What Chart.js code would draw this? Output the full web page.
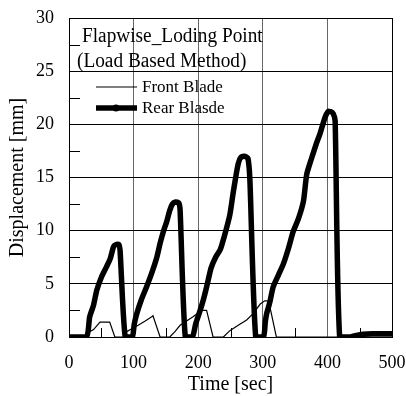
<!DOCTYPE html>
<html>
<head>
<meta charset="utf-8">
<script src="https://cdn.jsdelivr.net/npm/chart.js@4"></script>
<style>
  html, body { margin: 0; padding: 0; background: #fff; }
  #wrap { width: 406px; height: 396px; }
</style>
</head>
<body>
<div id="wrap"><canvas id="dispChart" width="406" height="396"></canvas></div>
<script>
// data
const frontTime = [0, 27, 32, 38, 48, 55, 63, 71, 87, 89, 98, 107, 118, 128, 130, 141, 156, 164, 172, 182, 192, 205, 213, 223, 239, 249, 262, 275, 285, 296, 303, 309, 321, 500];
const frontDisp = [0, 0, 0.5, 0.7, 1.4, 1.4, 1.4, 0, 0, 0.5, 0.8, 1.1, 1.5, 1.9, 2.0, 0, 0, 0.5, 1.1, 1.5, 1.9, 2.5, 2.5, 0, 0, 0.6, 1.1, 1.6, 2.2, 3.1, 3.4, 3.4, 0, 0];

const rearTime = [0, 27, 32, 38, 43, 50, 58, 64, 69, 73, 77, 79, 87, 98, 101, 105, 112, 120, 128, 136, 141, 146, 151, 156, 160, 165, 170, 172, 180, 191, 196, 203, 208, 213, 220, 227, 234, 241, 249, 254, 258, 262, 266, 272, 277, 280, 289, 301, 304, 306, 311, 316, 324, 332, 340, 347, 355, 363, 368, 376, 383, 389, 396, 401, 405, 409, 412, 419, 435, 445, 455, 470, 500];
const rearDisp = [0, 0, 1.9, 3.0, 4.4, 5.6, 6.6, 7.4, 8.5, 8.7, 8.7, 8.2, 0, 0, 1.2, 2.2, 3.5, 4.7, 6.0, 7.5, 8.8, 9.9, 10.8, 11.9, 12.5, 12.7, 12.6, 11.9, 0, 0, 1.2, 2.5, 3.5, 4.7, 6.5, 7.5, 8.2, 9.6, 11.5, 13.5, 15.0, 16.3, 16.9, 17.0, 16.8, 14.8, 0, 0, 1.5, 2.2, 3.3, 4.7, 5.8, 6.9, 8.4, 9.9, 11.1, 12.8, 15.3, 16.9, 18.2, 19.2, 20.6, 21.2, 21.2, 21.0, 20.3, 0, 0, 0.15, 0.25, 0.3, 0.3];

const yTicks = [0, 5, 10, 15, 20, 25, 30];
const xTicks = [0, 100, 200, 300, 400, 500];

const titleLines = ['Flapwise_Loding Point', '(Load Based Method)'];

const serif = '"Liberation Serif", "Times New Roman", serif';

function toPoints(xs, ys) {
    return xs.map((x, i) => ({ x: x, y: ys[i] }));
}

// inward minor ticks, frame, title and legend inside the plot
const extras = {
    id: 'extras',
    afterDraw(chart) {
        const ctx = chart.ctx;
        const area = chart.chartArea;
        const xs = chart.scales.x;
        const ys = chart.scales.y;
        ctx.save();
        ctx.strokeStyle = '#000';
        ctx.lineWidth = 1;
        // minor ticks
        for (let v = 50; v < 500; v += 100) {
            const px = Math.round(xs.getPixelForValue(v)) + 0.5;
            ctx.beginPath();
            ctx.moveTo(px, area.bottom);
            ctx.lineTo(px, area.bottom - 9);
            ctx.stroke();
        }
        for (let v = 2.5; v < 30; v += 5) {
            const py = Math.round(ys.getPixelForValue(v)) + 0.5;
            ctx.beginPath();
            ctx.moveTo(area.left, py);
            ctx.lineTo(area.left + 11, py);
            ctx.stroke();
        }
        // frame
        ctx.strokeRect(Math.round(area.left) + 0.5, Math.round(area.top) + 0.5,
            Math.round(area.right - area.left), Math.round(area.bottom - area.top));

        // title text, slightly condensed like the original
        ctx.fillStyle = '#000';
        ctx.textBaseline = 'middle';
        ctx.textAlign = 'left';
        ctx.font = '20px ' + serif;
        ctx.save();
        ctx.translate(area.left, 0);
        ctx.scale(0.965, 1);
        ctx.fillText(titleLines[0], 13 / 0.965, area.top + 19);
        ctx.fillText(titleLines[1], 8 / 0.965, area.top + 44);
        ctx.restore();

        // legend
        const sets = chart.data.datasets;
        ctx.font = '17px ' + serif;
        const rows = [area.top + 69, area.top + 90];
        sets.forEach((ds, i) => {
            const y = rows[i];
            ctx.beginPath();
            ctx.lineWidth = ds.borderWidth;
            ctx.lineCap = 'butt';
            ctx.moveTo(area.left + 27, y);
            ctx.lineTo(area.left + 68, y);
            ctx.stroke();
            if (i === 1) {
                ctx.beginPath();
                ctx.arc(area.left + 47, y, 3.5, 0, Math.PI * 2);
                ctx.fill();
            }
            ctx.fillText(ds.label, area.left + 73, y + 1);
        });
        ctx.restore();
    }
};

const ctx1 = document.getElementById('dispChart').getContext('2d');
const dispChart = new Chart(ctx1, {
    type: 'line',
    data: {
        datasets: [{
            label: 'Front Blade',
            data: toPoints(frontTime, frontDisp),
            borderColor: '#000',
            borderWidth: 1.2,
            pointRadius: 0,
            fill: false,
            tension: 0
        }, {
            label: 'Rear Blasde',
            data: toPoints(rearTime, rearDisp),
            borderColor: '#000',
            borderWidth: 5.5,
            pointRadius: 0,
            fill: false,
            tension: 0.2,
            borderJoinStyle: 'round',
            borderCapStyle: 'round'
        }]
    },
    options: {
        responsive: false,
        animation: false,
        layout: { padding: { top: 18, right: 14, left: 0, bottom: 0 } },
        plugins: {
            legend: { display: false },
            tooltip: { enabled: false }
        },
        scales: {
            x: {
                type: 'linear',
                min: 0,
                max: 500,
                afterBuildTicks: (s) => { s.ticks = xTicks.map(v => ({ value: v })); },
                afterFit: (s) => {
                    s.height = 59;
                    s.paddingLeft = 0;
                    s.paddingRight = 0;
                },
                ticks: {
                    color: '#000',
                    padding: 15,
                    font: { family: serif, size: 18 }
                },
                grid: {
                    drawTicks: false,
                    color: (c) => (c.tick && (c.tick.value === 0 || c.tick.value === 500)) ? '#000' : '#666'
                },
                border: { display: true, color: '#000' },
                title: {
                    display: true,
                    text: 'Time [sec]',
                    color: '#000',
                    padding: { top: 0, bottom: -1 },
                    font: { family: serif, size: 20 }
                }
            },
            y: {
                type: 'linear',
                min: 0,
                max: 30,
                afterBuildTicks: (s) => { s.ticks = yTicks.map(v => ({ value: v })); },
                afterFit: (s) => {
                    s.width = 69;
                    s.paddingTop = 0;
                    s.paddingBottom = 0;
                },
                ticks: {
                    color: '#000',
                    padding: 15,
                    font: { family: serif, size: 18 }
                },
                grid: {
                    drawTicks: false,
                    color: '#000'
                },
                border: { display: true, color: '#000' },
                title: {
                    display: true,
                    text: 'Displacement [mm]',
                    color: '#000',
                    padding: { top: 6, bottom: 0 },
                    font: { family: serif, size: 20 }
                }
            }
        }
    },
    plugins: [extras]
});
</script>
</body>
</html>
